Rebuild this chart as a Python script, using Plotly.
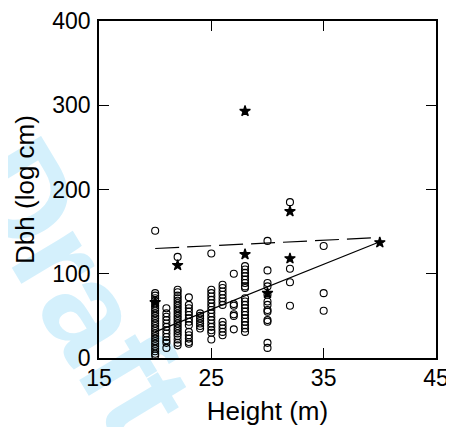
import plotly.graph_objects as go

# Open-circle observations, grouped by height column
heights = [20, 21, 22, 23, 24, 25, 26, 27, 28, 30, 32, 35]
dbh_by_height = [
    [151, 77, 74, 71, 68, 65, 62, 59, 56, 53, 50, 47, 44, 41, 38, 35, 32, 29, 26, 23, 20, 17, 14, 11, 8, 5, 3],
    [59, 53, 49, 45, 41, 37, 33, 29, 25, 21, 18, 12],
    [120, 81, 78, 74, 71, 68, 65, 62, 59, 56, 53, 50, 47, 44, 41, 38, 35, 32, 29, 26, 22, 18, 15],
    [72, 63, 59, 55, 51, 47, 43, 39, 31, 27, 23, 19, 17],
    [53, 50, 47, 44, 41, 38, 35],
    [124, 81, 77, 73, 69, 65, 61, 57, 53, 49, 45, 41, 37, 33, 30, 22],
    [87, 83, 79, 75, 71, 67, 63, 43, 39, 35, 31, 27],
    [100, 64, 62, 52, 50, 34],
    [109, 105, 101, 97, 93, 89, 85, 83, 71, 67, 63, 59, 55, 51, 47, 43, 39, 35, 31],
    [139, 104, 89, 85, 75, 67, 63, 57, 55, 45, 43, 18, 12],
    [185, 106, 90, 62],
    [133, 77, 56],
]

# Filled star observations
star_height = [20, 22, 28, 28, 30, 32, 32, 40]
star_dbh = [66, 110, 293, 123, 77, 174, 118, 137]

# Fitted lines (endpoints)
solid_x = [20, 40]
solid_y = [31, 138]
dashed_x = [20, 40]
dashed_y = [130, 143]

x_ticks = [15, 25, 35, 45]
y_ticks = [0, 100, 200, 300, 400]

circ_x, circ_y = [], []
for h, vals in zip(heights, dbh_by_height):
    for v in vals:
        circ_x.append(h)
        circ_y.append(v)

fig = go.Figure()
fig.add_trace(go.Scatter(x=circ_x, y=circ_y, mode="markers",
                         marker=dict(symbol="circle-open", size=7, color="black",
                                     line=dict(width=1.1, color="black")),
                         showlegend=False, hoverinfo="skip"))
fig.add_trace(go.Scatter(x=solid_x, y=solid_y, mode="lines",
                         line=dict(color="black", width=1.2), showlegend=False))
fig.add_trace(go.Scatter(x=dashed_x, y=dashed_y, mode="lines",
                         line=dict(color="black", width=1.2, dash="24px,8px"), showlegend=False))
fig.add_trace(go.Scatter(x=star_height, y=star_dbh, mode="markers",
                         marker=dict(symbol="star", size=8, color="black",
                                     line=dict(width=1.2, color="black")),
                         showlegend=False))

font = "Liberation Sans"
fig.add_shape(type="rect", xref="paper", yref="paper",
              x0=-0.38, x1=0.32, y0=-0.12, y1=0.58, layer="below",
              line=dict(width=0), fillcolor="rgba(0,0,0,0)",
              label=dict(text="<b>Draft</b>", textangle=59, textposition="middle center",
                         font=dict(size=135, color="#d4f0fc", family="Liberation Sans")))

# page body has an 8px margin, so the figure is 8px smaller and margins compensate
fig.update_layout(
    width=446, height=419,
    margin=dict(l=91, r=18, t=13, b=69, autoexpand=False),
    paper_bgcolor="white", plot_bgcolor="rgba(0,0,0,0)",
    font=dict(family=font, size=22, color="black"),
)
fig.update_xaxes(range=[15, 45], tickvals=x_ticks, ticktext=[str(t) for t in x_ticks],
                 ticks="inside", ticklen=10, tickwidth=1.3, tickcolor="black",
                 showline=True, linecolor="black", linewidth=1.6, mirror="ticks",
                 showgrid=False, zeroline=False, automargin=False,
                 title=dict(text="Height (m)", standoff=11),
                 tickfont=dict(size=23), ticklabelstandoff=-1)
fig.update_yaxes(range=[0, 400], tickvals=y_ticks, ticktext=[str(t) for t in y_ticks],
                 ticks="inside", ticklen=10, tickwidth=1.3, tickcolor="black",
                 showline=True, linecolor="black", linewidth=1.6, mirror="ticks",
                 showgrid=False, zeroline=False, automargin=False,
                 title=dict(text="Dbh (log cm)", standoff=10),
                 tickfont=dict(size=23), ticklabelstandoff=2)

fig.write_html("out.html")
